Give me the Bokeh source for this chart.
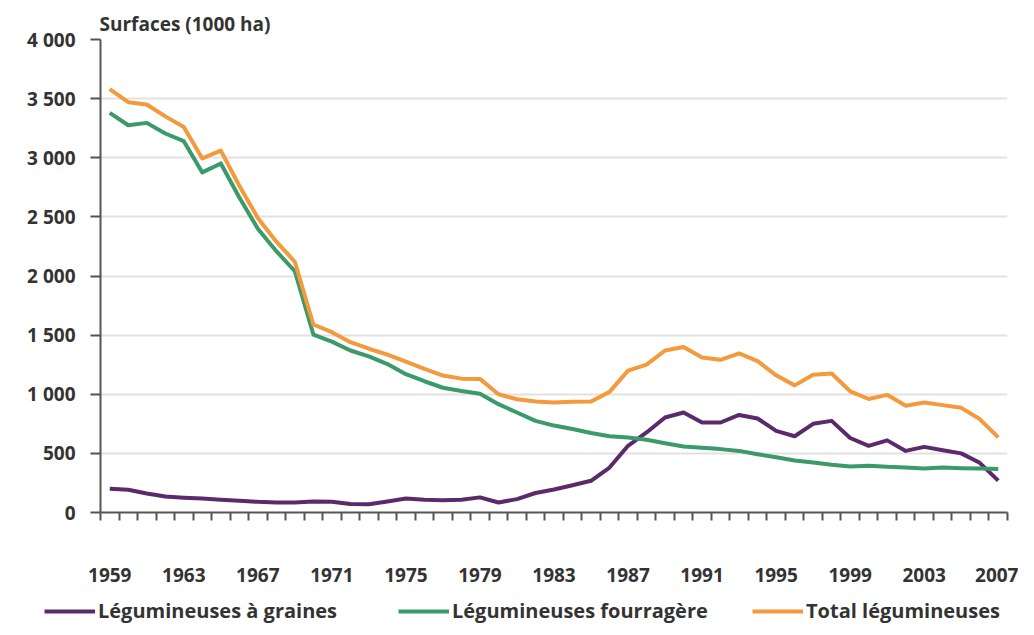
from bokeh.plotting import figure
from bokeh.models import FixedTicker, Legend, LegendItem, Range1d
from bokeh.layouts import column
from bokeh.embed import file_html
from bokeh.resources import INLINE

years = list(range(1959, 2008))

graines = [200, 192, 160, 135, 125, 118, 107, 99, 90, 85,
           85, 93, 90, 72, 70, 93, 118, 107, 104, 107,
           128, 85, 113, 165, 195, 230, 268, 380, 564, 677,
           803, 846, 761, 761, 825, 795, 690, 645, 750, 775,
           630, 564, 610, 521, 555, 527, 500, 420, 270]

fourrageres = [3380, 3275, 3295, 3205, 3140, 2876, 2952, 2664, 2400, 2210,
               2040, 1505, 1445, 1370, 1320, 1255, 1170, 1110, 1055, 1027,
               1005, 916, 846, 775, 735, 706, 672, 645, 634, 615,
               586, 558, 547, 536, 521, 493, 468, 440, 423, 403,
               389, 395, 386, 381, 372, 381, 375, 372, 368]

total = [3580, 3470, 3450, 3350, 3260, 2994, 3060, 2763, 2490, 2290,
         2120, 1590, 1525, 1440, 1385, 1335, 1275, 1215, 1158, 1132,
         1130, 1000, 958, 938, 930, 936, 939, 1020, 1200, 1250,
         1370, 1400, 1311, 1291, 1345, 1280, 1160, 1075, 1165, 1175,
         1025, 960, 995, 902, 930, 908, 885, 790, 635]

y_ticks = [0, 500, 1000, 1500, 2000, 2500, 3000, 3500, 4000]
y_labels = ["0", "500", "1 000", "1 500", "2 000", "2 500", "3 000", "3 500", "4 000"]
x_label_years = list(range(1959, 2008, 4))

series_names = ["Légumineuses à graines", "Légumineuses fourragère", "Total légumineuses"]
colors = ["#5B2A6B", "#3A9A6A", "#F39A3C"]
all_series = [graines, fourrageres, total]

FONT = "Open Sans"
TXT = "#333333"

p = figure(width=1018, height=598, output_backend="svg", toolbar_location=None,
           x_range=Range1d(1958.5, 2007.5), y_range=Range1d(0, 4000),
           min_border_left=100, min_border_right=11, min_border_top=39,
           min_border_bottom=86)
p.frame_align = False

p.title.text = "Surfaces (1000 ha)"
p.title.align = "left"
p.title.offset = -1
p.title.text_font = FONT
p.title.text_font_size = "19px"
p.title.text_font_style = "bold"
p.title.text_color = TXT
p.title.standoff = 5

p.outline_line_color = None
p.xgrid.visible = False
p.ygrid.grid_line_color = "#e2e2e2"
p.ygrid.grid_line_width = 2

for vals, c in zip(all_series, colors):
    p.line(years, vals, line_color=c, line_width=4, line_join="round")

xa = p.xaxis[0]
xa.ticker = FixedTicker(ticks=x_label_years,
                        minor_ticks=[y + 0.5 for y in range(1958, 2008)])
xa.major_tick_out = 0
xa.major_tick_in = 0
xa.minor_tick_out = 8
xa.minor_tick_in = 0
xa.minor_tick_line_color = "#555555"
xa.minor_tick_line_width = 2
xa.axis_line_color = "#555555"
xa.axis_line_width = 2
xa.major_label_standoff = 47
xa.major_label_text_font = FONT
xa.major_label_text_font_style = "bold"
xa.major_label_text_font_size = "19px"
xa.major_label_text_color = TXT

ya = p.yaxis[0]
ya.ticker = FixedTicker(ticks=y_ticks, minor_ticks=[])
ya.major_label_overrides = {t: l for t, l in zip(y_ticks, y_labels)}
ya.major_tick_out = 10
ya.major_tick_in = 0
ya.major_tick_line_color = "#555555"
ya.major_tick_line_width = 2
ya.axis_line_color = "#555555"
ya.axis_line_width = 2
ya.major_label_standoff = 15
ya.major_label_text_font = FONT
ya.major_label_text_font_style = "bold"
ya.major_label_text_font_size = "19px"
ya.major_label_text_color = TXT

# legend strip below the chart
lg = figure(width=1018, height=27, output_backend="svg", toolbar_location=None,
            x_range=Range1d(0, 1), y_range=Range1d(0, 1),
            x_axis_type=None, y_axis_type=None,
            min_border=0, min_border_left=0, min_border_right=0,
            min_border_top=0, min_border_bottom=0)
lg.frame_align = False
lg.grid.visible = False
lg.outline_line_color = None
items = []
for n, vals, c in zip(series_names, all_series, colors):
    r = lg.line(years, vals, line_color=c, line_width=4)
    items.append(LegendItem(label=n, renderers=[r]))

legend = Legend(items=items, orientation="horizontal", location=(44, 1))
legend.glyph_width = 51
legend.glyph_height = 22
legend.label_standoff = 3
legend.label_width = 300
legend.label_height = 22
legend.spacing = 0
legend.padding = 0
legend.margin = 0
legend.border_line_color = None
legend.background_fill_alpha = 0
legend.label_text_font = FONT
legend.label_text_font_style = "bold"
legend.label_text_font_size = "20px"
legend.label_text_color = TXT
lg.add_layout(legend, "center")

layout = column(p, lg, spacing=0)
open("out.html", "w").write(file_html(layout, INLINE))
